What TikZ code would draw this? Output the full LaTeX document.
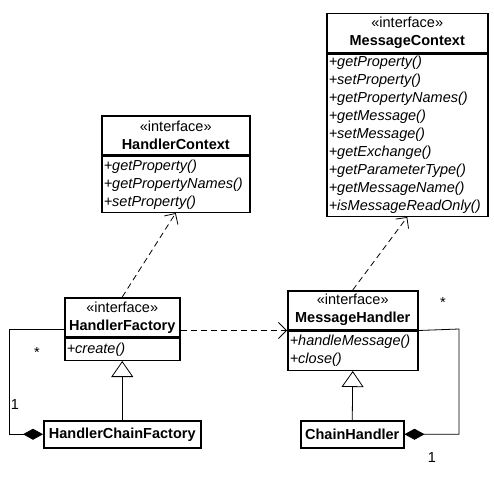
\documentclass[tikz,border=0pt]{standalone}
\usepackage{fontspec}
\setmainfont{Liberation Sans}
\usetikzlibrary{arrows.meta}
\hyphenpenalty=10000
\hbadness=10000

\begin{document}
\begin{tikzpicture}
    [x=1pt,y=-1pt,every node/.style={draw,line width=1.5pt,inner sep=0pt,font=\fontsize{14.5}{18}\selectfont},
     head/.style={anchor=north west,align=center,minimum height=39pt},
     ops/.style={anchor=north west,align=left,inner xsep=2pt,font=\fontsize{14.5}{18}\selectfont\itshape},
     cls/.style={anchor=north west,minimum height=27pt,font=\fontsize{14.5}{18}\selectfont\bfseries},
     mult/.style={draw=none},
     dep/.style={line width=.8pt,dash pattern=on 6pt off 4pt,-{Straight Barb[length=8pt,width=16pt]}},
     gen/.style={line width=.8pt,-{Triangle[open,length=16pt,width=22pt]}},
     comp/.style={line width=.8pt,-{Diamond[length=20pt,width=11pt]}}]
    \useasboundingbox (0,0) rectangle (494,476);
    \node[head,minimum width=148pt] (hc) at (101,115) {«interface»\\\textbf{HandlerContext}};
    \node[ops,text width=144pt,minimum height=56pt] (hcops) at (hc.south west) {+getProperty()\\+getPropertyNames()\\+setProperty()};
    \node[head,minimum width=161pt] (mc) at (326,13) {«interface»\\\textbf{MessageContext}};
    \node[ops,text width=157pt,minimum height=162pt] (mcops) at (mc.south west) {+getProperty()\\+setProperty()\\+getPropertyNames()\\+getMessage()\\+setMessage()\\+getExchange()\\+getParameterType()\\+getMessageName()\\+isMessageReadOnly()};
    \node[head,minimum width=115pt] (hf) at (64,297) {«interface»\\\textbf{HandlerFactory}};
    \node[ops,text width=111pt,minimum height=22pt] (hfops) at (hf.south west) {+create()};
    \node[head,minimum width=130pt] (mh) at (287,290) {«interface»\\\textbf{MessageHandler}};
    \node[ops,text width=126pt,minimum height=39pt] (mhops) at (mh.south west) {+handleMessage()\\+close()};
    \node[cls,minimum width=157pt] (hcf) at (43,420) {HandlerChainFactory};
    \node[cls,minimum width=103pt] (ch) at (300,420) {ChainHandler};
    \node[mult] (hfstar) at (37,353) {*};
    \node[mult] (hfone) at (15,405) {1};
    \node[mult] (mhstar) at (443,303) {*};
    \node[mult] (mhone) at (432,458) {1};
    \coordinate (lc) at (9,329);
    \coordinate (rc) at (459,329);
    \draw[dep] (hf.north) -- (hcops.south);
    \draw[dep] (mh.north) -- (mcops.south);
    \draw[dep] (hf.east |- mh.south) -- (mh.south west);
    \draw[gen] (hcf.north) -- (hfops.south);
    \draw[gen] (ch.north) -- (mhops.south);
    \draw[comp] (hf.west |- lc) -- (lc) |- (hcf.west);
    \draw[comp] (mh.south east) -- (rc) |- (ch.east);
\end{tikzpicture}
\end{document}
